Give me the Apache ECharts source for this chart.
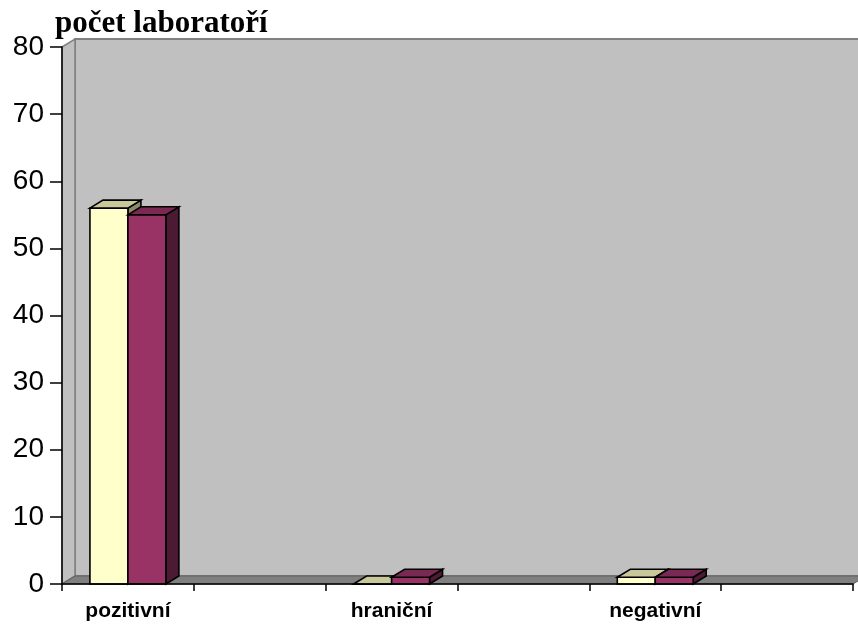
<!DOCTYPE html>
<html><head><meta charset="utf-8">
<script src="https://cdn.jsdelivr.net/npm/echarts@6/dist/echarts.min.js"></script>
<style>html,body{margin:0;padding:0;background:#fff}#c{width:858px;height:628px}</style>
</head><body><div id="c"></div>
<script>
const categories = ['pozitivní', '', 'hraniční', '', 'negativní', ''];
const seriesA = [56, null, 0, null, 1, null];
const seriesB = [55, null, 1, null, 1, null];
const yMin = 0, yMax = 80, yInterval = 10;
const titleText = 'počet laboratoří';

const DX = 13, DY = -8;
const chart = echarts.init(document.getElementById('c'), null, {renderer: 'canvas'});

function barRender(side, cFront, cTop, cSide) {
  return function (params, api) {
    const v = api.value(1);
    if (v === null || v === undefined || isNaN(v)) return;
    const idx = api.value(0);
    const base = api.coord([idx, 0]);
    const top = api.coord([idx, v]);
    const band = api.size([1, 0])[0];
    const w = band * 0.288;
    const x0 = side === 0 ? base[0] - w : base[0];
    const x1 = x0 + w;
    const yb = base[1], yt = top[1];
    const st = {stroke: '#000', lineWidth: 1.6, lineJoin: 'miter'};
    return {
      type: 'group',
      children: [
        {type: 'polygon', shape: {points: [[x1, yt], [x1 + DX, yt + DY], [x1 + DX, yb + DY], [x1, yb]]}, style: Object.assign({fill: cSide}, st)},
        {type: 'polygon', shape: {points: [[x0, yt], [x1, yt], [x1, yb], [x0, yb]]}, style: Object.assign({fill: cFront}, st)},
        {type: 'polygon', shape: {points: [[x0, yt], [x0 + DX, yt + DY], [x1 + DX, yt + DY], [x1, yt]]}, style: Object.assign({fill: cTop}, st)}
      ]
    };
  };
}

function wallRender(params, api) {
  const band = api.size([1, 0])[0];
  const c0 = api.coord([0, yMin]);
  const cTop = api.coord([0, yMax]);
  const L = c0[0] - band / 2;
  const R = L + band * categories.length;
  const B = c0[1], T = cTop[1];
  return {
    type: 'group',
    children: [
      {type: 'polygon', shape: {points: [[L + DX, T + DY], [R + DX + 40, T + DY], [R + DX + 40, B + DY], [L + DX, B + DY]]}, style: {fill: '#C0C0C0', stroke: '#808080', lineWidth: 2}},
      {type: 'polygon', shape: {points: [[L, T], [L + DX, T + DY], [L + DX, B + DY], [L, B]]}, style: {fill: '#C0C0C0', stroke: '#808080', lineWidth: 1.5}},
      {type: 'polygon', shape: {points: [[L, B], [L + DX, B + DY], [R + DX, B + DY], [R, B]]}, style: {fill: '#808080', stroke: '#606060', lineWidth: 1}}
    ]
  };
}

chart.setOption({
  animation: false,
  backgroundColor: '#fff',
  title: {
    text: titleText, left: 50, top: 3,
    textStyle: {fontFamily: '"Liberation Serif", "Times New Roman", serif', fontWeight: 'bold', fontSize: 31, color: '#000'}
  },
  grid: {left: 62, right: 5, top: 47, bottom: 44, containLabel: false},
  xAxis: {
    type: 'category', data: categories, z: 10,
    boundaryGap: true,
    axisLine: {show: true, lineStyle: {color: '#000', width: 1.5}},
    axisTick: {show: true, length: 7, alignWithLabel: false, interval: 0, lineStyle: {color: '#000', width: 1.5}},
    axisLabel: {interval: 0, margin: 17, fontFamily: '"Liberation Sans", Arial, sans-serif', fontWeight: 'bold', fontSize: 21, color: '#000'},
    splitLine: {show: false}
  },
  yAxis: {
    type: 'value', min: yMin, max: yMax, interval: yInterval, z: 10,
    axisLine: {show: true, lineStyle: {color: '#000', width: 1.5}},
    axisTick: {show: true, length: 12, lineStyle: {color: '#000', width: 1.5}},
    axisLabel: {margin: 18, fontFamily: '"Liberation Sans", Arial, sans-serif', fontSize: 28, color: '#000', padding: [6, 0, 0, 0]},
    splitLine: {show: false}
  },
  series: [
    {type: 'custom', name: 'walls', z: 1, silent: true, renderItem: wallRender, data: [[0, 0]]},
    {type: 'custom', name: 'řada 1', z: 2, renderItem: barRender(0, '#FFFFCC', '#C8C89B', '#8A8A66'), data: seriesA.map((v, i) => [i, v])},
    {type: 'custom', name: 'řada 2', z: 3, renderItem: barRender(1, '#993366', '#7A2952', '#4D1A33'), data: seriesB.map((v, i) => [i, v])}
  ]
});
</script></body></html>
